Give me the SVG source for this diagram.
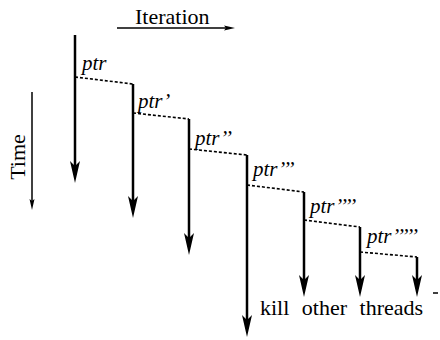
<svg xmlns="http://www.w3.org/2000/svg" width="440" height="340" viewBox="0 0 440 340">
  <style>
    .thread { stroke: #000; stroke-width: 2.5; fill: none; marker-end: url(#head); }
    .hop { stroke: #000; stroke-width: 1.6; stroke-dasharray: 3 2; fill: none; }
    .axis { stroke: #000; stroke-width: 1.5; fill: none; }
  </style>
  <defs>
    <!-- large head for thread arrows; ref point at the notch -->
    <marker id="head" markerUnits="userSpaceOnUse" markerWidth="24" markerHeight="12" viewBox="0 -6 24 12" refX="5" refY="0" orient="auto">
      <path d="M0,-5 L22,0 L0,5 L5,0 z" fill="#000"/>
    </marker>
    <!-- small head for the axes -->
    <marker id="small" markerUnits="userSpaceOnUse" markerWidth="12" markerHeight="6" viewBox="0 -3 12 6" refX="2" refY="0" orient="auto">
      <path d="M0,-2.5 L11,0 L0,2.5 L2,0 z" fill="#000"/>
    </marker>
  </defs>

  <g font-family="Liberation Serif, Times New Roman, serif" fill="#000">
    <!-- axes -->
    <g id="iteration-axis">
      <line class="axis" x1="117" y1="28" x2="226" y2="28" marker-end="url(#small)"/>
      <text font-size="22" x="135" y="24">Iteration</text>
    </g>
    <g id="time-axis">
      <line class="axis" x1="32" y1="92" x2="32" y2="201" marker-end="url(#small)"/>
      <text font-size="22" x="25" y="157" text-anchor="middle" transform="rotate(-90 25 157)">Time</text>
    </g>

    <!-- threads (vertical arrows) -->
    <g font-size="21" font-style="italic">
      <g id="thread-1"><line class="thread" x1="75" y1="35" x2="75" y2="166"/><text x="82" y="70">ptr</text></g>
      <g id="thread-2"><line class="thread" x1="133" y1="84" x2="133" y2="201"/><text x="138" y="108">ptr’</text></g>
      <g id="thread-3"><line class="thread" x1="189" y1="119" x2="189" y2="238"/><text x="195" y="145">ptr’’</text></g>
      <g id="thread-4"><line class="thread" x1="247" y1="155" x2="247" y2="320"/><text x="253" y="176">ptr’’’</text></g>
      <g id="thread-5"><line class="thread" x1="304" y1="192" x2="304" y2="280"/><text x="310" y="213">ptr’’’’</text></g>
      <g id="thread-6"><line class="thread" x1="360" y1="227" x2="360" y2="280"/><text x="367" y="243">ptr’’’’’</text></g>
      <g id="thread-7"><line class="thread" x1="417" y1="257" x2="417" y2="280"/></g>
    </g>

    <!-- pointer hand-offs between threads -->
    <g id="connectors">
      <path class="hop" d="M75,77 L133,84"/>
      <path class="hop" d="M133,113 L189,119"/>
      <path class="hop" d="M189,149 L247,155"/>
      <path class="hop" d="M247,185 L304,192"/>
      <path class="hop" d="M304,220 L360,227"/>
      <path class="hop" d="M360,252 L417,257"/>
    </g>

    <g id="kill-note">
      <text font-size="22" x="260" y="315" word-spacing="7">kill other threads</text>
      <line x1="433" y1="293" x2="438" y2="293" stroke="#000" stroke-width="1.5"/>
    </g>
  </g>
</svg>
